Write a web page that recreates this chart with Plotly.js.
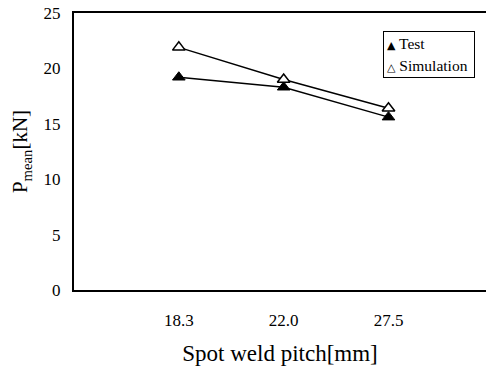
<!DOCTYPE html>
<html>
<head>
<meta charset="utf-8">
<script src="https://cdn.plot.ly/plotly-3.0.1.min.js"></script>
<style>html,body{margin:0;padding:0;background:#fff;}#chart{width:486px;height:374px;}</style>
</head>
<body>
<div id="chart"></div>
<script>
const categories = ["18.3", "22.0", "27.5"];
const testValues = [19.2, 18.3, 15.6];
const simValues = [21.9, 19.0, 16.4];
const seriesNames = ["Test", "Simulation"];
const yTicks = [0, 5, 10, 15, 20, 25];

const xIdx = categories.map((c, i) => i);
const font = "'Liberation Serif', 'Times New Roman', serif";

const traces = [
  {x: xIdx, y: testValues, mode: "lines", line: {color: "#000", width: 1.4}, showlegend: false, hoverinfo: "skip"},
  {x: xIdx, y: simValues, mode: "lines", line: {color: "#000", width: 1.4}, showlegend: false, hoverinfo: "skip"},
  {x: xIdx, y: testValues, mode: "markers", name: seriesNames[0], showlegend: false,
   marker: {symbol: "triangle-up", size: 11, color: "#000", line: {color: "#000", width: 1}}},
  {x: xIdx, y: simValues, mode: "markers", name: seriesNames[1], showlegend: false,
   marker: {symbol: "triangle-up", size: 11, color: "#fff", line: {color: "#000", width: 1.5}}}
];

const sym = s => '<span style="font-family:DejaVu Sans;font-size:11px">' + s + '</span>';
const txt = s => '<span style="font-size:15.5px"> ' + s + ' </span>';
const legendText = sym("▲") + txt(seriesNames[0]) + "<br>" + sym("△") + txt(seriesNames[1]);

const layout = {
  width: 486, height: 374,
  margin: {l: 74, r: 0, t: 13, b: 84},
  paper_bgcolor: "#fff", plot_bgcolor: "#fff",
  font: {family: font, color: "#000", size: 15},
  showlegend: false,
  annotations: [{
    xref: "paper", yref: "paper", x: 0.75, y: 0.935, xanchor: "left", yanchor: "top",
    text: legendText, showarrow: false, align: "left",
    font: {family: font, size: 17, color: "#000"},
    bgcolor: "#fff", bordercolor: "#000", borderwidth: 1, borderpad: 3
  }],
  xaxis: {
    range: [-1, 2.93], tickvals: xIdx, ticktext: categories,
    showgrid: false, zeroline: false, showline: true, linecolor: "#000", linewidth: 2,
    mirror: true, ticks: "", ticklabelstandoff: 14,
    tickfont: {family: font, size: 17, color: "#000"},
    title: {text: "Spot weld pitch[mm]", font: {family: font, size: 23, color: "#000"}, standoff: 15}
  },
  yaxis: {
    range: [0, 25], tickvals: yTicks, ticktext: yTicks.map(String),
    showgrid: false, zeroline: false, showline: true, linecolor: "#000", linewidth: 2,
    ticks: "", ticklabelstandoff: 8,
    tickfont: {family: font, size: 17, color: "#000"},
    title: {text: "P<sub>mean</sub>[kN]", font: {family: font, size: 21, color: "#000"}, standoff: 10}
  }
};

Plotly.newPlot("chart", traces, layout, {displayModeBar: false, staticPlot: true});
</script>
</body>
</html>
